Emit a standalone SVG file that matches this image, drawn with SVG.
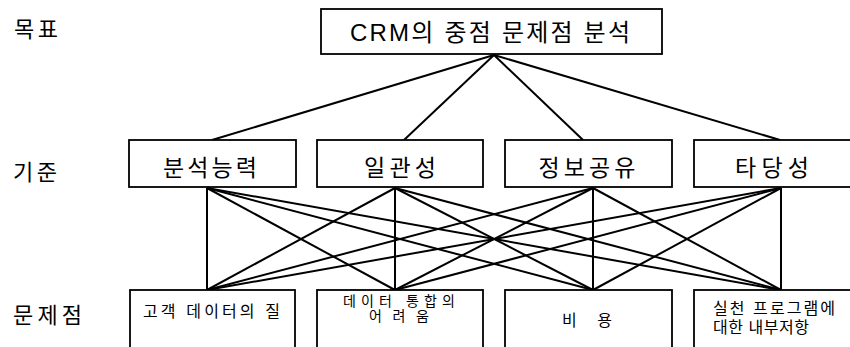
<svg xmlns="http://www.w3.org/2000/svg" width="850" height="347" viewBox="0 0 850 347">
  <style>
    .box { fill: #fff; stroke: #000; stroke-width: 1.8; }
    .link { stroke: #000; stroke-width: 2; fill: none; }
    text { font-family: "Liberation Sans", "Noto Sans CJK KR", sans-serif; fill: #000; }
    .lvl { font-size: 22px; }
    .goal { font-size: 24px; }
    .crit { font-size: 23px; text-anchor: middle; }
    .prob { font-size: 16px; }
    .small { font-size: 14px; text-anchor: middle; }
  </style>
  <rect width="850" height="347" fill="#fff"/>

  <!-- level labels -->
  <g id="level-labels">
    <text class="lvl" x="14" y="37" textLength="44" lengthAdjust="spacing">목표</text>
    <text class="lvl" x="13" y="180" textLength="44" lengthAdjust="spacing">기준</text>
    <text class="lvl" x="13" y="323" textLength="69" lengthAdjust="spacing">문제점</text>
  </g>

  <!-- connectors -->
  <g id="connectors">
    <line class="link" x1="494" y1="55" x2="212" y2="140"/>
    <line class="link" x1="494" y1="55" x2="404" y2="140"/>
    <line class="link" x1="494" y1="55" x2="583" y2="140"/>
    <line class="link" x1="494" y1="55" x2="780" y2="140"/>

    <line class="link" x1="207" y1="188" x2="207" y2="290"/>
    <line class="link" x1="207" y1="188" x2="395" y2="290"/>
    <line class="link" x1="207" y1="188" x2="593" y2="290"/>
    <line class="link" x1="207" y1="188" x2="781" y2="290"/>

    <line class="link" x1="395" y1="188" x2="207" y2="290"/>
    <line class="link" x1="395" y1="188" x2="395" y2="290"/>
    <line class="link" x1="395" y1="188" x2="593" y2="290"/>
    <line class="link" x1="395" y1="188" x2="781" y2="290"/>

    <line class="link" x1="593" y1="188" x2="207" y2="290"/>
    <line class="link" x1="593" y1="188" x2="395" y2="290"/>
    <line class="link" x1="593" y1="188" x2="593" y2="290"/>
    <line class="link" x1="593" y1="188" x2="781" y2="290"/>

    <line class="link" x1="781" y1="188" x2="207" y2="290"/>
    <line class="link" x1="781" y1="188" x2="395" y2="290"/>
    <line class="link" x1="781" y1="188" x2="593" y2="290"/>
    <line class="link" x1="781" y1="188" x2="781" y2="290"/>
  </g>

  <!-- goal -->
  <g id="goal">
    <rect class="box" x="321" y="9" width="341" height="45"/>
    <text class="goal" x="350" y="41" textLength="280" lengthAdjust="spacing">CRM의 중점 문제점 분석</text>
  </g>

  <!-- criteria -->
  <g id="crit-analysis">
    <rect class="box" x="129" y="140" width="167" height="47"/>
    <text class="crit" x="210" y="176" textLength="94" lengthAdjust="spacing">분석능력</text>
  </g>
  <g id="crit-consistency">
    <rect class="box" x="317" y="140" width="166" height="47"/>
    <text class="crit" x="400" y="176" textLength="72" lengthAdjust="spacing">일관성</text>
  </g>
  <g id="crit-sharing">
    <rect class="box" x="505" y="140" width="167" height="47"/>
    <text class="crit" x="587" y="176" textLength="97" lengthAdjust="spacing">정보공유</text>
  </g>
  <g id="crit-validity">
    <rect class="box" x="694" y="140" width="160" height="47"/>
    <text class="crit" x="772" y="176" textLength="74" lengthAdjust="spacing">타당성</text>
  </g>

  <!-- problems -->
  <g id="prob-quality">
    <rect class="box" x="130" y="290" width="165" height="58"/>
    <text class="prob" x="143" y="317" textLength="137" lengthAdjust="spacing">고객 데이터의 질</text>
  </g>
  <g id="prob-integration">
    <rect class="box" x="317" y="290" width="166" height="58"/>
    <text class="small" x="399" y="306" textLength="112" lengthAdjust="spacing">데이터 통합의</text>
    <text class="small" x="399" y="321" textLength="60" lengthAdjust="spacing">어려움</text>
  </g>
  <g id="prob-cost">
    <rect class="box" x="505" y="290" width="167" height="58"/>
    <text class="prob" x="562" y="326" textLength="50" lengthAdjust="spacing">비 용</text>
  </g>
  <g id="prob-resistance">
    <rect class="box" x="694" y="290" width="160" height="58"/>
    <text class="prob" x="713" y="314" textLength="122" lengthAdjust="spacing">실천 프로그램에</text>
    <text class="prob" x="713" y="333" textLength="96" lengthAdjust="spacing">대한 내부저항</text>
  </g>
</svg>
